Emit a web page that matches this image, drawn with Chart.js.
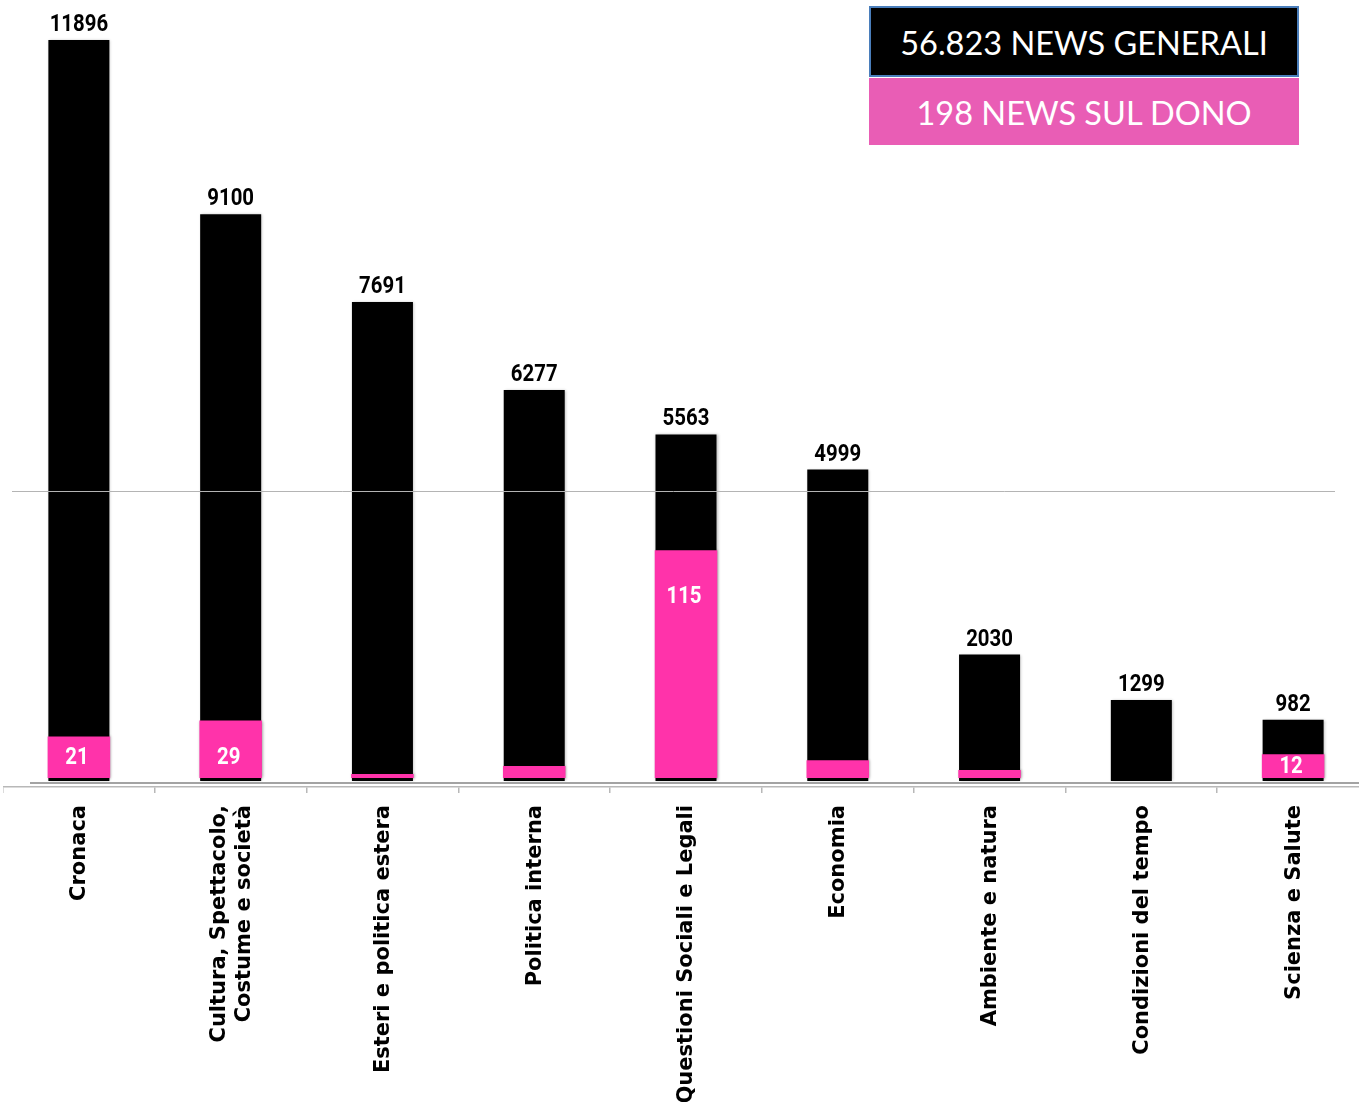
<!DOCTYPE html>
<html>
<head>
<meta charset="utf-8">
<script src="https://cdn.jsdelivr.net/npm/chart.js@4/dist/chart.umd.min.js"></script>
<style>
  html, body { margin: 0; padding: 0; background: #fff; width: 1359px; height: 1102px; overflow: hidden; }
  #wrap { position: absolute; left: 3px; top: 0; width: 1366px; height: 1102px; }
  .lg { position: absolute; left: 869px; width: 430px; color: #fff; font-family: Lato, "Open Sans", sans-serif; font-size: 32.5px; text-align: center; box-sizing: border-box; }
  #lg1 { top: 6px; height: 71px; background: #000; border: 2px solid #4A7EBB; line-height: 70px; }
  #lg2 { top: 78px; height: 67px; background: #E95DB5; line-height: 70px; }
</style>
</head>
<body>
<div id="wrap"><canvas id="c" width="1366" height="1102"></canvas></div>
<div class="lg" id="lg1">56.823 NEWS GENERALI</div>
<div class="lg" id="lg2">198 NEWS SUL DONO</div>
<script>
const categories = [
  'Cronaca',
  ['Cultura, Spettacolo,', 'Costume e società'],
  'Esteri e politica estera',
  'Politica interna',
  'Questioni Sociali e Legali',
  'Economia',
  'Ambiente e natura',
  'Condizioni del tempo',
  'Scienza e Salute'
];
const newsGenerali = [11896, 9100, 7691, 6277, 5563, 4999, 2030, 1299, 982];
const newsDono = [21, 29, 2, 6, 115, 9, 4, 0, 12];
const donoGridValue = 145;
const donoLabelMin = 10;

function condensedText(ctx, txt, x, y, sx) {
  ctx.save();
  ctx.translate(x, y);
  ctx.scale(sx, 1);
  ctx.fillText(txt, 0, 0);
  ctx.restore();
}

const overlay = {
  id: 'overlay',
  afterDatasetsDraw(chart) {
    const ctx = chart.ctx;
    const yG = chart.scales.yGen, yD = chart.scales.yDono, x = chart.scales.x;
    ctx.save();
    // horizontal gridline drawn over the bars
    const gy = Math.round(yD.getPixelForValue(donoGridValue)) + 0.5;
    ctx.strokeStyle = '#b4b4b4';
    ctx.lineWidth = 1;
    ctx.beginPath(); ctx.moveTo(9, gy); ctx.lineTo(1332, gy); ctx.stroke();
    // baseline of the general-news series
    const by = yG.getPixelForValue(0) + 2;
    ctx.strokeStyle = '#a3a3a3';
    ctx.lineWidth = 2;
    ctx.beginPath(); ctx.moveTo(27, by); ctx.lineTo(1366, by); ctx.stroke();

    // value labels for black bars
    ctx.textAlign = 'center';
    ctx.textBaseline = 'alphabetic';
    ctx.fillStyle = '#000';
    ctx.font = "bold 24px Roboto, sans-serif";
    const mG = chart.getDatasetMeta(1);
    mG.data.forEach((bar, i) => {
      condensedText(ctx, String(newsGenerali[i]), bar.x, bar.y - 9, 0.85);
    });
    // value labels for pink bars
    ctx.fillStyle = '#fff';
    ctx.textBaseline = 'middle';
    const mD = chart.getDatasetMeta(0);
    mD.data.forEach((bar, i) => {
      if (newsDono[i] < donoLabelMin) return;
      const base = bar.base, top = bar.y;
      const ly = Math.min(Math.max((base + top) / 2, base - 21), top + 46) + 1;
      condensedText(ctx, String(newsDono[i]), bar.x - 2, ly, 0.85);
    });

    // category labels, rotated, ending near the axis
    ctx.fillStyle = '#000';
    ctx.font = "bold 21px 'DejaVu Sans', sans-serif";
    ctx.textAlign = 'right';
    ctx.textBaseline = 'middle';
    const lineGap = 25;
    const labelTop = x.bottom === undefined ? 805 : x.top + 18;
    categories.forEach((lab, i) => {
      const lines = Array.isArray(lab) ? lab : [lab];
      const cx = x.getPixelForValue(i) + 1;
      lines.forEach((ln, j) => {
        const off = (j - (lines.length - 1) / 2) * lineGap;
        ctx.save();
        ctx.translate(cx + off, labelTop);
        ctx.rotate(-Math.PI / 2);
        ctx.fillText(ln, 0, 0);
        ctx.restore();
      });
    });
    ctx.restore();
  }
};

const shadow = {
  id: 'shadow',
  beforeDatasetsDraw(chart) {
    const ctx = chart.ctx;
    ctx.save();
    ctx.shadowColor = 'rgba(0,0,0,0.28)';
    ctx.shadowBlur = 3;
    ctx.shadowOffsetX = 1;
    ctx.shadowOffsetY = 0;
  },
  afterDatasetsDraw(chart) { chart.ctx.restore(); }
};

new Chart(document.getElementById('c'), {
  type: 'bar',
  data: {
    labels: categories,
    datasets: [
      {
        label: 'News sul dono',
        data: newsDono,
        yAxisID: 'yDono',
        backgroundColor: '#FF33AA',
        barPercentage: 1,
        categoryPercentage: 0.412,
        order: 1
      },
      {
        label: 'News generali',
        data: newsGenerali,
        yAxisID: 'yGen',
        backgroundColor: '#000000',
        barPercentage: 1,
        categoryPercentage: 0.402,
        order: 2
      }
    ]
  },
  options: {
    responsive: false,
    animation: false,
    devicePixelRatio: 1,
    layout: { padding: 0 },
    plugins: { legend: { display: false }, tooltip: { enabled: false } },
    datasets: { bar: { grouped: false } },
    scales: {
      x: {
        offset: true,
        afterFit(s) { s.height = 315; },
        grid: { display: true, drawOnChartArea: false, drawTicks: true, tickLength: 6, color: '#b8b8b8', lineWidth: 1.5 },
        border: { display: true, color: '#b8b8b8', width: 1.5 },
        ticks: { display: false, autoSkip: false }
      },
      yGen: { display: false, min: -96, max: 12538 },
      yDono: { display: false, min: -4.55, max: 392.9 }
    }
  },
  plugins: [shadow, overlay]
});
</script>
</body>
</html>
